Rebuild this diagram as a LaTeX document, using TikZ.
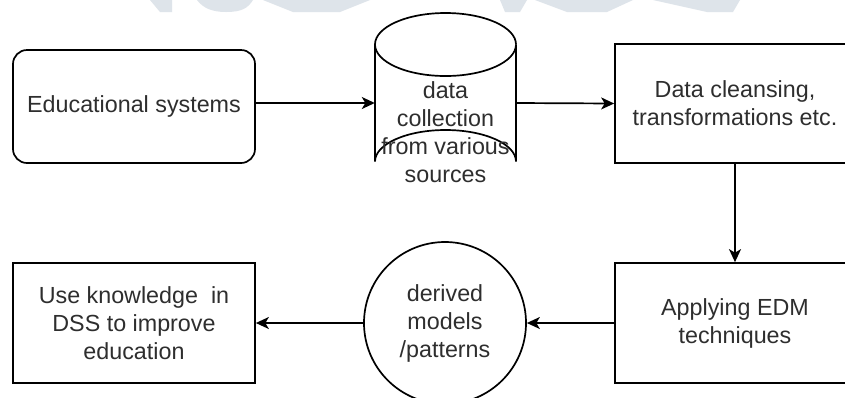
\documentclass[tikz,border=0pt]{standalone}
\usepackage{fontspec}
\setmainfont{Liberation Sans}
\usetikzlibrary{arrows.meta}
\definecolor{ink}{HTML}{2E2E2E}
\definecolor{wmark}{HTML}{DEE4EA}
\tikzset{
  x=1bp, y=-1bp,
  shapeline/.style={draw=black, line width=1.7bp},
  txt/.style={text=ink, align=center, font=\fontsize{23.3bp}{28bp}\selectfont},
  arr/.style={line width=1.7bp, -{Stealth[length=13bp,width=12bp,inset=3.5bp]}},
}
\begin{document}
\begin{tikzpicture}
\useasboundingbox (0,0) rectangle (845,397);
\clip (0,0) rectangle (845,397);
\fill[white] (0,0) rectangle (845,397);

% faint logo fragments along the top edge
\begin{scope}[fill=wmark]
  \fill (150,0) -- (172,0) -- (172,12) -- (160,12) -- cycle;
  \fill (197,0) -- (253,0) .. controls (248,8) and (242,12) .. (226,12)
        .. controls (212,12) and (203,8) .. cycle;
  \fill (263,0) -- (370,0) -- (340,12) -- (293,12) -- cycle;
  \fill (500,0) -- (527,0) -- (520,12) -- (505,12) -- cycle;
  \fill (535,0) -- (633,0) -- (607,12) -- (567,12) -- cycle;
  \fill (653,0) -- (740,0) -- (733,12) -- (707,12) -- cycle;
\end{scope}

% top row
\node[shapeline, rounded corners=14bp, minimum width=242bp, minimum height=113bp,
      txt] (edu) at (134,106.5) {Educational systems};

\node[minimum width=141bp, minimum height=180bp, inner sep=0pt] (cyl) at (445.5,103) {};
\draw[shapeline, fill=white]
  (375,44.5) -- (375,161.5) arc[start angle=180, end angle=360, x radius=70.5bp, y radius=-31.5bp]
  -- (516,44.5) arc[start angle=0, end angle=180, x radius=70.5bp, y radius=-31.5bp] -- cycle;
\draw[shapeline] (375,44.5) arc[start angle=180, end angle=360, x radius=70.5bp, y radius=-31.5bp];
\node[txt] (cyltxt) at (445.5,132) {data\\collection\\from various\\sources};

\node[shapeline, minimum width=240bp, minimum height=119bp, txt] (clean) at (735,103.5)
  {Data cleansing,\\transformations etc.};

% bottom row
\node[shapeline, minimum width=240bp, minimum height=120bp, txt] (apply) at (735,323)
  {Applying EDM\\techniques};
\node[shapeline, circle, minimum size=162bp, inner sep=0pt, txt] (models) at (445,323)
  {derived\\models\\/patterns};
\node[shapeline, minimum width=242bp, minimum height=120bp, txt] (use) at (134,323)
  {Use knowledge~~in\\DSS to improve\\education};

% flow
\draw[arr] (edu.east |- cyl.west) -- (cyl.west);
\draw[arr] (cyl.east) -- (clean.west);
\draw[arr] (clean.south) -- (apply.north);
\draw[arr] (apply.west) -- (models.east);
\draw[arr] (models.west) -- (use.east);
\end{tikzpicture}
\end{document}
